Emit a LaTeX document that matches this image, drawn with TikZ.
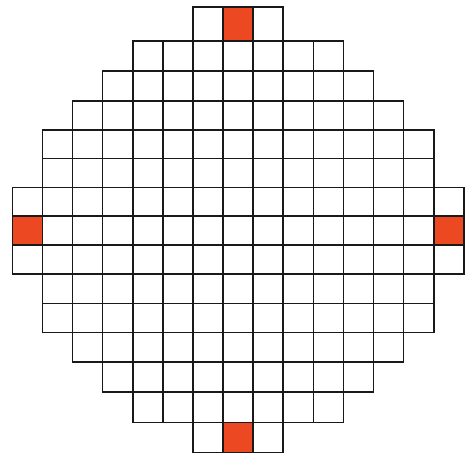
\documentclass[tikz,border=0pt]{standalone}
\definecolor{cellred}{RGB}{236,72,34}
\begin{document}
\begin{tikzpicture}[x=1pt,y=-1pt,
  cellline/.style={line width=1.6pt, draw=black!90, line join=miter},
  hot/.style={fill=cellred, draw=none}]
\useasboundingbox (0,0) rectangle (465,455);
\def\ylines{{6.7,41,71,100.7,130,158.3,187.3,216,245,274,303.3,332.3,361.7,391.7,422.3,452.3}}
% red cells
\foreach \c/\r in {7/0, 0/7, 14/7, 7/14}{
  \pgfmathsetmacro\ya{\ylines[\r]}
  \pgfmathsetmacro\yb{\ylines[\r+1]}
  \pgfmathsetmacro\xa{12.3+30.1*\c}
  \pgfmathsetmacro\xb{\xa+30.1}
  \fill[hot] (\xa,\ya) rectangle (\xb,\yb);
}
% grid
\foreach \r/\a/\b in {0/6/8, 1/4/10, 2/3/11, 3/2/12, 4/1/13, 5/1/13, 6/0/14, 7/0/14, 8/0/14, 9/1/13, 10/1/13, 11/2/12, 12/3/11, 13/4/10, 14/6/8}{
  \pgfmathsetmacro\ya{\ylines[\r]}
  \pgfmathsetmacro\yb{\ylines[\r+1]}
  \foreach \c in {\a,...,\b}{
    \pgfmathsetmacro\xa{12.3+30.1*\c}
    \pgfmathsetmacro\xb{\xa+30.1}
    \draw[cellline] (\xa,\ya) rectangle (\xb,\yb);
  }
}
\end{tikzpicture}
\end{document}
